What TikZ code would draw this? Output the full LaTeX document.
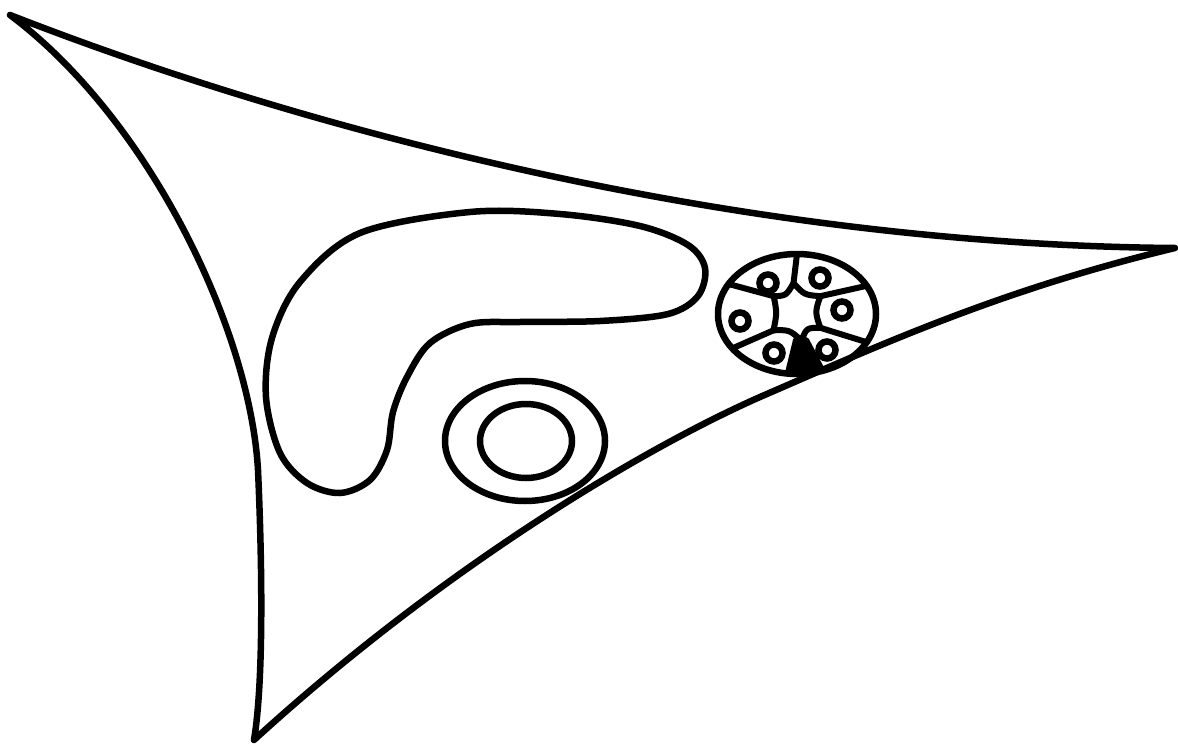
\documentclass[tikz,border=0pt]{standalone}
\begin{document}
\begin{tikzpicture}[x=1pt,y=-1pt,
  ink/.style={draw=black,line width=6.5pt,line join=round,line cap=round},
  fine/.style={draw=black,line width=6pt,line join=round,line cap=round}]
\useasboundingbox (0,0) rectangle (1178,746);

% three-cornered outline
\coordinate (tl) at (10,15);
\coordinate (rt) at (1175,248);
\coordinate (bm) at (760,397);
\coordinate (lm) at (258,470);
\coordinate (bt) at (254,740);
\draw[ink] (tl) .. controls (330,140) and (760,245) .. (rt)
           .. controls (1000,290) and (880,345) .. (bm)
           .. controls (640,450) and (440,570) .. (bt)
           .. controls (264,680) and (262,560) .. (lm)
           .. controls (250,330) and (150,120) .. (tl);

% kidney-shaped body
\draw[ink] plot[smooth cycle, tension=0.55] coordinates {
  (470,212) (560,214) (640,226) (688,245) (705,268) (698,296) (668,314)
  (600,321) (520,322) (470,324) (430,343) (407,377) (393,412) (387,450)
  (370,480) (340,493) (307,483) (280,453) (266,397) (272,338) (300,282)
  (360,233)};

% double ring
\coordinate (dr) at (525,441);
\draw[ink] (dr) ellipse [x radius=80pt, y radius=60pt];
\draw[ink] (526,441) ellipse [x radius=46pt, y radius=37pt];

% rosette
\coordinate (rc) at (797,314);
\draw[ink] (rc) ellipse [x radius=79pt, y radius=60pt];

% inner star
\coordinate (v1) at (793.5,283.1);
\coordinate (v2) at (820.3,296.2);
\coordinate (v3) at (820.3,327.8);
\coordinate (v4) at (801.5,340.5);
\coordinate (v5) at (773.5,330.3);
\coordinate (v6) at (773.7,296.2);
\draw[fine] (v1) .. controls (804.3,294.9) .. (v2)
            .. controls (815,312) .. (v3)
            .. controls (806.6,327.8) .. (v4)
            .. controls (789.5,329.9) .. (v5)
            .. controls (777.0,313.0) .. (v6)
            .. controls (786.2,295.7) .. cycle;

% cell walls
\coordinate (o1) at (797,254);
\coordinate (o2) at (866.7,285.8);
\coordinate (o3) at (866.7,342.2);
\coordinate (o4) at (799.8,374);
\coordinate (o5) at (732.3,348.4);
\coordinate (o6) at (728.6,284);
\foreach \i in {1,2,3,5,6} \draw[fine] (v\i) -- (o\i);
% heavy wall at the foot of the rosette
\filldraw[fine] (796,340) -- (806,340) -- (822,370) -- (788,373) -- cycle;

% small rings in the cells
\foreach \p in {(768,283),(820,278),(842,310),(827,350),(774,353),(740,321)}
  \draw[line width=6.5pt] \p circle [radius=8.5pt];
\end{tikzpicture}
\end{document}
